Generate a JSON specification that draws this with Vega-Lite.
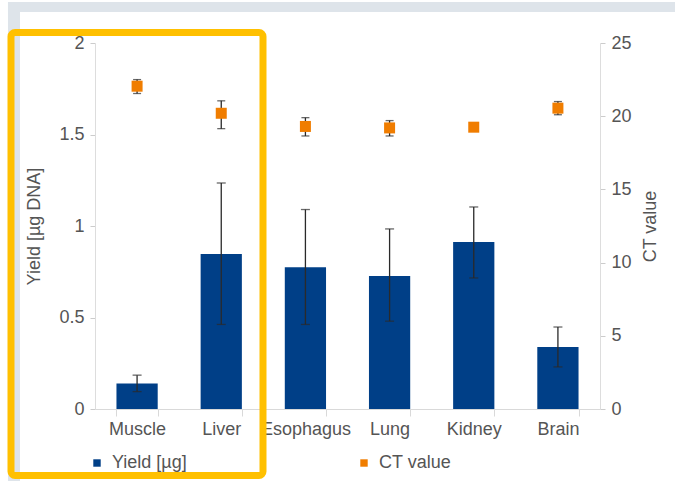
{
  "$schema": "https://vega.github.io/schema/vega-lite/v6.json",
  "width": 505,
  "height": 366,
  "autosize": {"type": "none"},
  "padding": {"left": 95, "top": 43, "right": 75, "bottom": 72},
  "background": "white",
  "config": {
    "view": {"stroke": null},
    "font": "Liberation Sans",
    "axis": {"grid": false, "labelFont": "Liberation Sans", "titleFont": "Liberation Sans", "labelFontSize": 18, "labelColor": "#555555", "titleFontSize": 18, "titleFontWeight": "normal", "titleColor": "#555555", "domainColor": "#dddddd", "tickColor": "#cccccc"},
    "legend": {"labelFont": "Liberation Sans"}
  },
  "layer": [
    {
      "data": {
        "values": [
          {"tissue": "Muscle", "yield": 0.14, "yield_lo": 0.095, "yield_hi": 0.185, "ct": 22.05, "ct_lo": 21.55, "ct_hi": 22.5},
          {"tissue": "Liver", "yield": 0.847, "yield_lo": 0.462, "yield_hi": 1.235, "ct": 20.2, "ct_lo": 19.15, "ct_hi": 21.05},
          {"tissue": "Esophagus", "yield": 0.775, "yield_lo": 0.462, "yield_hi": 1.09, "ct": 19.3, "ct_lo": 18.65, "ct_hi": 19.9},
          {"tissue": "Lung", "yield": 0.727, "yield_lo": 0.48, "yield_hi": 0.984, "ct": 19.2, "ct_lo": 18.65, "ct_hi": 19.7},
          {"tissue": "Kidney", "yield": 0.913, "yield_lo": 0.716, "yield_hi": 1.104, "ct": 19.25, "ct_lo": 19.0, "ct_hi": 19.5},
          {"tissue": "Brain", "yield": 0.339, "yield_lo": 0.23, "yield_hi": 0.448, "ct": 20.55, "ct_lo": 20.1, "ct_hi": 21.0}
        ]
      },
      "encoding": {
        "x": {
          "field": "tissue", "type": "nominal", "sort": null,
          "scale": {"paddingInner": 0.51, "paddingOuter": 0.255},
          "axis": {"title": null, "labelAngle": 0, "tickBand": "extent", "domainColor": "#d9d9d9", "tickColor": "#d9d9d9", "tickSize": 7, "labelPadding": 4, "orient": "bottom"}
        }
      },
      "layer": [
        {
          "layer": [
            {
              "mark": {"type": "bar", "color": "#003f87"},
              "encoding": {
                "y": {"field": "yield", "type": "quantitative", "scale": {"domain": [0, 2], "nice": false},
                  "axis": {"orient": "left", "title": "Yield [µg DNA]", "values": [0, 0.5, 1, 1.5, 2], "format": "~g", "tickSize": 5, "labelPadding": 6, "titlePadding": 15}},
                "color": {"datum": "Yield [µg]", "type": "nominal",
                  "scale": {"domain": ["Yield [µg]", "CT value"], "range": ["#003f87", "#f07d00"]},
                  "legend": {"orient": "none", "legendX": -7, "legendY": 411, "direction": "horizontal", "title": null, "symbolType": "square", "symbolSize": 55, "labelFontSize": 18, "labelColor": "#555555", "columnPadding": 168, "labelOffset": 6, "symbolStrokeWidth": 0}}
              }
            },
            {
              "mark": {"type": "rule", "color": "#2a2a2a", "strokeWidth": 1.3},
              "encoding": {"y": {"field": "yield_lo", "type": "quantitative"}, "y2": {"field": "yield_hi"}}
            },
            {
              "mark": {"type": "tick", "color": "#2a2a2a", "thickness": 1.3, "size": 9},
              "encoding": {"y": {"field": "yield_lo", "type": "quantitative"}}
            },
            {
              "mark": {"type": "tick", "color": "#2a2a2a", "thickness": 1.3, "size": 9},
              "encoding": {"y": {"field": "yield_hi", "type": "quantitative"}}
            }
          ]
        },
        {
          "layer": [
            {
              "mark": {"type": "rule", "color": "#2a2a2a", "strokeWidth": 1.3},
              "encoding": {
                "y": {"field": "ct_lo", "type": "quantitative", "scale": {"domain": [0, 25], "nice": false},
                  "axis": {"orient": "right", "title": "CT value", "values": [0, 5, 10, 15, 20, 25], "tickSize": 5, "labelPadding": 6, "titlePadding": 28, "titleAngle": 270}},
                "y2": {"field": "ct_hi"}
              }
            },
            {
              "mark": {"type": "tick", "color": "#2a2a2a", "thickness": 1.3, "size": 8},
              "encoding": {"y": {"field": "ct_lo", "type": "quantitative"}}
            },
            {
              "mark": {"type": "tick", "color": "#2a2a2a", "thickness": 1.3, "size": 8},
              "encoding": {"y": {"field": "ct_hi", "type": "quantitative"}}
            },
            {
              "mark": {"type": "square", "size": 121, "opacity": 1},
              "encoding": {
                "y": {"field": "ct", "type": "quantitative"},
                "color": {"datum": "CT value", "type": "nominal"}
              }
            }
          ]
        }
      ],
      "resolve": {"scale": {"y": "independent"}}
    },
    {
      "data": {"values": [{}]},
      "layer": [
        {
          "mark": {"type": "rect", "color": "#dee4ea"},
          "encoding": {
            "x": {"datum": -1.034, "type": "quantitative", "scale": {"domain": [0, 6], "nice": false, "zero": false}, "axis": null},
            "x2": {"datum": 6.9},
            "y": {"datum": 2.224, "type": "quantitative", "scale": {"domain": [0, 2], "nice": false}, "axis": null},
            "y2": {"datum": 2.169}
          }
        },
        {
          "mark": {"type": "rect", "color": "#dee4ea"},
          "encoding": {
            "x": {"datum": -1.034, "type": "quantitative"},
            "x2": {"datum": -0.891},
            "y": {"datum": 2.224, "type": "quantitative"},
            "y2": {"datum": -0.4}
          }
        },
        {
          "mark": {"type": "rect", "filled": false, "color": "#ffc000", "strokeWidth": 7, "cornerRadius": 4},
          "encoding": {
            "x": {"datum": -0.998, "type": "quantitative"},
            "x2": {"datum": 1.996},
            "y": {"datum": 2.057, "type": "quantitative"},
            "y2": {"datum": -0.363}
          }
        }
      ]
    }
  ],
  "resolve": {"scale": {"x": "independent", "y": "independent"}}
}
